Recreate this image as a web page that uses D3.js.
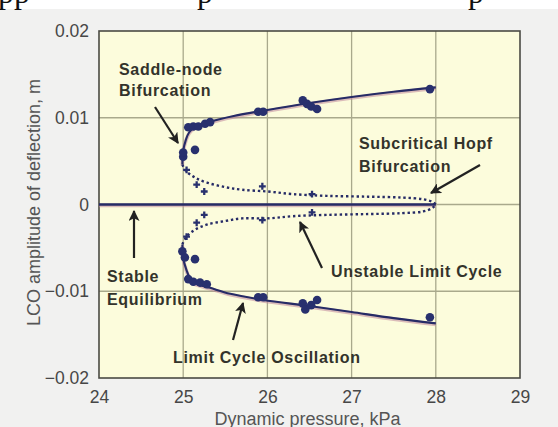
<!DOCTYPE html>
<html>
<head>
<meta charset="utf-8">
<script src="https://cdn.jsdelivr.net/npm/d3@7"></script>
<style>
  html, body { margin: 0; padding: 0; background: #ffffff; }
  svg { display: block; }
</style>
</head>
<body>
<script>
// Axis ticks
const xTicks = [24, 25, 26, 27, 28, 29];
const yTicks = [0.02, 0.01, 0, -0.01, -0.02];
const yTickLabels = ["0.02", "0.01", "0", "\u22120.01", "\u22120.02"];

// Stable LCO branches (dynamic pressure kPa, amplitude m)
const upperStableQ = [24.99, 25.0, 25.03, 25.07, 25.15, 25.3, 25.6, 26.0, 26.5, 27.0, 27.5, 28.0];
const upperStableA = [0.0046, 0.0062, 0.0074, 0.0083, 0.0090, 0.0095, 0.0102, 0.0109, 0.0117, 0.0124, 0.0130, 0.0135];
const lowerStableQ = [24.99, 25.0, 25.04, 25.08, 25.12, 25.32, 25.56, 25.95, 26.5, 27.0, 27.5, 28.0];
const lowerStableA = [-0.0046, -0.0062, -0.0076, -0.0085, -0.0090, -0.0096, -0.0103, -0.0110, -0.0117, -0.0124, -0.0131, -0.0137];

// Unstable LCO branches
const upperUnstableQ = [24.99, 25.03, 25.14, 25.29, 25.5, 25.7, 26.0, 26.3, 26.7, 27.2, 27.6, 27.85, 27.96, 28.0];
const upperUnstableA = [0.0046, 0.0039, 0.0031, 0.0025, 0.0020, 0.0017, 0.0015, 0.0012, 0.0010, 0.0009, 0.0008, 0.0006, 0.0003, 0.0];
const lowerUnstableQ = [24.99, 25.04, 25.14, 25.29, 25.5, 25.7, 26.0, 26.3, 26.7, 27.2, 27.6, 27.85, 27.96, 28.0];
const lowerUnstableA = [-0.0046, -0.0037, -0.0029, -0.0023, -0.0019, -0.0016, -0.0016, -0.00135, -0.0012, -0.0011, -0.0010, -0.0008, -0.0004, 0.0];

// Stable equilibrium
const equilibriumQ = [24, 28];
const equilibriumA = [0, 0];

// Measured LCO amplitudes
const measuredQ = [25.0, 25.0, 25.14, 25.06, 25.12, 25.18, 25.26, 25.32, 25.89, 25.95, 26.42, 26.47, 26.52, 26.59, 27.93,
                   24.99, 25.02, 25.14, 25.06, 25.12, 25.2, 25.28, 25.89, 25.95, 26.42, 26.45, 26.52, 26.59, 27.93];
const measuredA = [0.0055, 0.0060, 0.0063, 0.0089, 0.0090, 0.0090, 0.0093, 0.0095, 0.0107, 0.0107, 0.0120, 0.0116, 0.0113, 0.0110, 0.0133,
                   -0.0054, -0.0061, -0.0063, -0.0086, -0.0089, -0.0090, -0.0092, -0.0107, -0.0107, -0.0114, -0.0121, -0.0116, -0.0110, -0.0130];

// Unstable cycle points
const unstableQ = [25.04, 25.16, 25.25, 25.94, 26.53, 25.04, 25.16, 25.25, 25.94, 26.53];
const unstableA = [0.0040, 0.0023, 0.0015, 0.0021, 0.0012, -0.0037, -0.0021, -0.0012, -0.0018, -0.0009];

const W = 558, H = 427;
const margin = { left: 99, top: 31, right: 38, bottom: 49 };
const plotW = W - margin.left - margin.right;
const plotH = H - margin.top - margin.bottom;

const svg = d3.select("body").append("svg").attr("width", W).attr("height", H);

// page background
svg.append("rect").attr("x", 0).attr("y", 0).attr("width", W).attr("height", H).attr("fill", "#ffffff");
svg.append("rect").attr("x", 0).attr("y", 9).attr("width", W).attr("height", H - 9).attr("fill", "#f1f1f0");

// descenders of the line of text above the figure
const topText = svg.append("g").attr("font-family", "'Liberation Serif', 'DejaVu Serif', serif")
  .attr("font-size", 32).attr("fill", "#111");
topText.append("text").attr("x", -2).attr("y", 3).text("pp");
topText.append("text").attr("x", 197).attr("y", 3).text("p");
topText.append("text").attr("x", 468).attr("y", 3).text("p");

const x = d3.scaleLinear().domain([24, 29]).range([margin.left, margin.left + plotW]);
const y = d3.scaleLinear().domain([-0.02, 0.02]).range([margin.top + plotH, margin.top]);

// plot area
svg.append("rect")
  .attr("x", x(24)).attr("y", y(0.02))
  .attr("width", x(29) - x(24)).attr("height", y(-0.02) - y(0.02))
  .attr("fill", "#fcfcdc");

// grid
const grid = svg.append("g").attr("stroke", "#a9a98c").attr("stroke-width", 1.3);
grid.selectAll(".gx").data(xTicks.slice(1, -1)).join("line")
  .attr("x1", d => x(d)).attr("x2", d => x(d))
  .attr("y1", y(0.02)).attr("y2", y(-0.02));
grid.selectAll(".gy").data(yTicks.slice(1, -1)).join("line")
  .attr("y1", d => y(d)).attr("y2", d => y(d))
  .attr("x1", x(24)).attr("x2", x(29));

// frame
svg.append("rect")
  .attr("x", x(24)).attr("y", y(0.02))
  .attr("width", x(29) - x(24)).attr("height", y(-0.02) - y(0.02))
  .attr("fill", "none").attr("stroke", "#4a4a44").attr("stroke-width", 1.6);

// axes (labels only)
const xAxis = d3.axisBottom(x).tickValues(xTicks).tickSize(0).tickPadding(13).tickFormat(d3.format("d"));
const gx = svg.append("g").attr("transform", `translate(0,${y(-0.02)})`).call(xAxis);
gx.select(".domain").remove();
gx.selectAll("text").attr("font-family", "'Liberation Sans', Arial, sans-serif")
  .attr("font-size", 17.5).attr("fill", "#474747");

const yAxis = d3.axisLeft(y).tickValues(yTicks).tickSize(0).tickPadding(10)
  .tickFormat((d, i) => yTickLabels[i]);
const gy = svg.append("g").attr("transform", `translate(${x(24)},0)`).call(yAxis);
gy.select(".domain").remove();
gy.selectAll("text").attr("font-family", "'Liberation Sans', Arial, sans-serif")
  .attr("font-size", 17.5).attr("fill", "#474747");

// axis titles
svg.append("text")
  .attr("x", (x(24) + x(29)) / 2 - 2).attr("y", 425)
  .attr("text-anchor", "middle")
  .attr("font-family", "'Liberation Sans', Arial, sans-serif")
  .attr("font-size", 18).attr("fill", "#555")
  .text("Dynamic pressure, kPa");
svg.append("text")
  .attr("transform", `translate(40,${(y(0.02) + y(-0.02)) / 2 - 2}) rotate(-90)`)
  .attr("text-anchor", "middle")
  .attr("font-family", "'Liberation Sans', Arial, sans-serif")
  .attr("font-size", 18).attr("fill", "#555")
  .text("LCO amplitude of deflection, m");

// curves
const toPts = (qs, as) => qs.map((q, i) => [q, as[i]]);
const line = d3.line().x(d => x(d[0])).y(d => y(d[1])).curve(d3.curveCatmullRom.alpha(0.5));
const navy = "#262b66";

const solidSeries = [
  toPts(upperStableQ, upperStableA),
  toPts(lowerStableQ, lowerStableA),
  toPts(equilibriumQ, equilibriumA)
];
const dottedSeries = [
  toPts(upperUnstableQ, upperUnstableA),
  toPts(lowerUnstableQ, lowerUnstableA)
];

// faint reddish fringe under the solid curves
svg.append("g").selectAll("path").data(solidSeries).join("path")
  .attr("d", line).attr("fill", "none")
  .attr("stroke", "#c0879c").attr("stroke-width", 3.6).attr("opacity", 0.55)
  .attr("transform", "translate(0,1)");
svg.append("g").selectAll("path").data(solidSeries).join("path")
  .attr("d", line).attr("fill", "none")
  .attr("stroke", navy).attr("stroke-width", (d, i) => i === 2 ? 2.4 : 2.1);

svg.append("g").selectAll("path").data(dottedSeries).join("path")
  .attr("d", line).attr("fill", "none")
  .attr("stroke", navy).attr("stroke-width", 2.4)
  .attr("stroke-dasharray", "2.4,2.8");

// measured points
svg.append("g").selectAll("circle").data(measuredQ.map((q, i) => [q, measuredA[i]])).join("circle")
  .attr("cx", d => x(d[0])).attr("cy", d => y(d[1])).attr("r", 4.3)
  .attr("fill", "#28306e");

svg.append("g").selectAll("path").data(unstableQ.map((q, i) => [q, unstableA[i]])).join("path")
  .attr("transform", d => `translate(${x(d[0])},${y(d[1])})`)
  .attr("d", d3.symbol().type(d3.symbolCross).size(26))
  .attr("fill", "#28306e");

// annotations
const ann = svg.append("g")
  .attr("font-family", "'Liberation Sans', Arial, sans-serif")
  .attr("font-weight", "bold").attr("font-size", 16)
  .attr("letter-spacing", 0.7)
  .attr("fill", "#33332b");
const notes = [
  { t: "Saddle-node", x: 119, y: 75 },
  { t: "Bifurcation", x: 119, y: 96 },
  { t: "Subcritical Hopf", x: 359, y: 149 },
  { t: "Bifurcation", x: 359, y: 172 },
  { t: "Unstable Limit Cycle", x: 331, y: 277 },
  { t: "Stable", x: 107, y: 282 },
  { t: "Equilibrium", x: 107, y: 305 },
  { t: "Limit Cycle Oscillation", x: 173, y: 363 }
];
ann.selectAll("text").data(notes).join("text")
  .attr("x", d => d.x).attr("y", d => d.y).text(d => d.t);

// arrows
svg.append("defs").append("marker")
  .attr("id", "head").attr("viewBox", "0 0 10 10")
  .attr("refX", 9).attr("refY", 5)
  .attr("markerWidth", 5).attr("markerHeight", 5)
  .attr("markerUnits", "strokeWidth")
  .attr("orient", "auto")
  .append("path").attr("d", "M0,0 L10,5 L0,10 L2.5,5 Z").attr("fill", "#222");

const arrows = [
  [155, 107, 178, 143],
  [134, 258, 134, 211],
  [480, 165, 431, 193],
  [322, 268, 300, 222],
  [233, 340, 243, 303]
];
svg.append("g").selectAll("line").data(arrows).join("line")
  .attr("x1", d => d[0]).attr("y1", d => d[1]).attr("x2", d => d[2]).attr("y2", d => d[3])
  .attr("stroke", "#222").attr("stroke-width", 2.2)
  .attr("marker-end", "url(#head)");
</script>
</body>
</html>
